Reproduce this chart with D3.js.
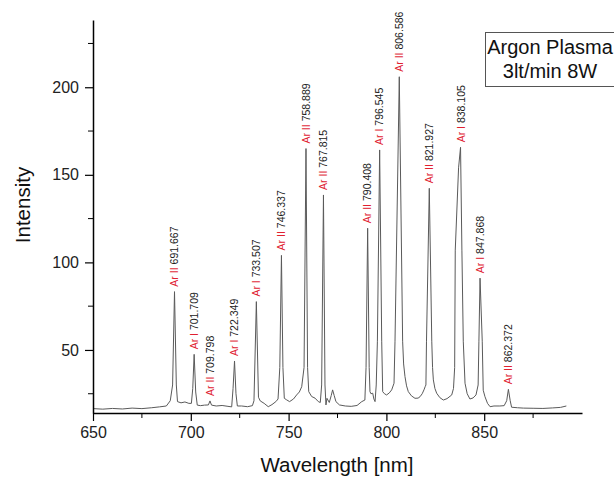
<!DOCTYPE html>
<html>
<head>
<meta charset="utf-8">
<script src="https://cdn.jsdelivr.net/npm/d3@7"></script>
<style>
  body { margin: 0; background: #fff; }
  svg { font-family: Arial, "Liberation Sans", sans-serif; }
</style>
</head>
<body>
<script>
// spectrum (wavelength nm, intensity)
var wavelength = [650, 655, 660, 665, 670, 675, 680, 684, 687.5, 689.5, 690.7, 691.67, 692.6, 693.2, 695, 697, 699, 700.3, 701.0, 701.71, 702.5, 703.3,
  705, 707, 709, 709.8, 710.6, 713, 716, 719, 720.9, 721.6, 722.35, 723.1, 723.8, 726, 729, 731.5, 732.3, 733.51, 734.6, 735.5,
  737.5, 739.6, 741.5, 743.5, 744.6, 745.5, 746.34, 747.1, 747.8, 749, 750.5, 752.5, 754.1, 755.5, 756.7, 757.9, 758.89, 759.7, 760.3,
  761.8, 763.5, 765.2, 766.2, 766.9, 767.82, 768.6, 769.1, 769.6, 770.8, 771.8, 772.5, 773.3, 774.2, 776, 779, 782, 785, 787.4, 789.0,
  789.6, 790.41, 791.2, 791.6, 792.1, 793, 793.6, 794.2, 794.8, 795.4, 796.55, 797.6, 798.1, 799.0, 800.1, 801.5, 802.7, 803.9, 804.4,
  806.59, 808.3, 808.8, 809.5, 810.3, 811.2, 812.8, 814.6, 816.2, 817.2, 818.3, 819.2, 819.8, 820.2, 820.5, 821.93, 823.2, 823.6, 824.0,
  824.8, 825.7, 827.3, 829.1, 831, 833.4, 834.3, 834.9, 835.2, 836.9, 837.9, 838.6, 839.3, 840.2, 841.3, 842.7, 844.3, 845.8, 846.9,
  847.3, 847.87, 849.0, 849.5, 850.4, 851.7, 853, 855, 858, 860.2, 861.5, 862.37, 863.3, 864, 867, 870, 875, 880, 885, 889, 892];
var intensity = [16.5, 16.2, 16.6, 16.3, 16.8, 16.5, 17.0, 17.5, 18.0, 21.0, 30, 83.3, 30, 20.5, 19.8, 20.3, 19.5, 19.5, 28, 47.5, 26, 18.5,
  18.2, 18.5, 18.6, 20.9, 18.5, 18.0, 18.3, 17.8, 17.5, 28, 43.7, 25, 18.0, 18.0, 17.6, 18.2, 21, 77.6, 23, 20.9,
  19.5, 17.6, 18.8, 20.5, 22, 40, 104, 40, 22.4, 21.5, 20.5, 22, 24.3, 26, 29, 40, 165, 40, 26.2,
  23.4, 22.5, 20.5, 20, 30, 138.5, 30, 18.6, 22.4, 20, 24, 27.2, 24, 20.5, 18.6, 18.0, 17.8, 18.3, 20.5, 21.4,
  40, 119.5, 40, 26.2, 25, 25.3, 22, 20.5, 30, 55, 164.2, 55, 26.2, 25, 24.3, 25.5, 27.2, 31, 55,
  206, 55, 42, 34.8, 29.5, 26.2, 23.8, 22.4, 22.5, 23.3, 25, 27.2, 29, 30, 55, 142.3, 55, 40, 32.9,
  28, 25.3, 22.8, 21.4, 22.2, 24.3, 28, 40, 107, 154, 165.7, 107, 55, 31, 25, 22, 22.6, 24.3, 30,
  55, 91, 55, 27, 23.3, 19.5, 17.6, 18.0, 18.0, 18.2, 21, 27.5, 21, 17.3, 17.0, 16.8, 16.7, 16.6, 16.9, 17.2, 18.0];

// line identifications
var lineWl = ["691.667", "701.709", "709.798", "722.349", "733.507", "746.337", "758.889", "767.815",
  "790.408", "796.545", "806.586", "821.927", "838.105", "847.868", "862.372"];
var lineIon = ["Ar II", "Ar I", "Ar II", "Ar I", "Ar I", "Ar II", "Ar II", "Ar II",
  "Ar II", "Ar I", "Ar II", "Ar II", "Ar I", "Ar I", "Ar II"];
var lineTop = [83.3, 47.5, 20.9, 43.7, 77.6, 104, 165, 138.5, 119.5, 164.2, 206, 142.3, 165.7, 91, 27.5];

var xTicks = [650, 700, 750, 800, 850];
var xMinor = [675, 725, 775, 825, 875];
var yTicks = [50, 100, 150, 200];
var yMinor = [25, 75, 125, 175, 225];
var legendLines = ["Argon Plasma", "3lt/min 8W"];

var W = 614, H = 479;
var x = d3.scaleLinear().domain([650, 900]).range([93, 582]);
var y = d3.scaleLinear().domain([14, 238.4]).range([413, 20]);

var svg = d3.select("body").append("svg")
    .attr("width", W)
    .attr("height", H);
svg.append("rect").attr("width", W).attr("height", H).attr("fill", "#fff");

// spectrum
var pts = wavelength.map(function(w, i) { return [w, intensity[i]]; });
var line = d3.line()
    .x(function(d) { return x(d[0]); })
    .y(function(d) { return y(d[1]); });
svg.append("path")
    .datum(pts)
    .attr("d", line)
    .attr("fill", "none")
    .attr("stroke", "#5a5a5a")
    .attr("stroke-width", 1)
    .attr("stroke-linejoin", "round");

// axes
var xAxis = d3.axisBottom(x).tickValues(xTicks).tickSize(8).tickSizeOuter(0).tickPadding(6).tickFormat(d3.format("d"));
var yAxis = d3.axisLeft(y).tickValues(yTicks).tickSize(8).tickSizeOuter(0).tickPadding(6).tickFormat(d3.format("d"));

var gx = svg.append("g").attr("transform", "translate(0," + y.range()[0] + ")").call(xAxis);
gx.selectAll(".minor").data(xMinor).enter().append("line")
    .attr("class", "minor")
    .attr("x1", function(d) { return x(d); }).attr("x2", function(d) { return x(d); })
    .attr("y1", 0).attr("y2", 5)
    .attr("stroke", "#000");

var gy = svg.append("g").attr("transform", "translate(" + x.range()[0] + ",0)").call(yAxis);
gy.selectAll(".minor").data(yMinor).enter().append("line")
    .attr("class", "minor")
    .attr("y1", function(d) { return y(d); }).attr("y2", function(d) { return y(d); })
    .attr("x1", 0).attr("x2", -5)
    .attr("stroke", "#000");

svg.selectAll(".domain").attr("stroke", "#000").attr("stroke-width", 1.5);
svg.selectAll(".tick line").attr("stroke", "#000").attr("stroke-width", 1.2);
svg.selectAll(".tick text").attr("font-size", 16).attr("fill", "#222")
    .attr("font-family", "Arial, 'Liberation Sans', sans-serif");

// axis titles
svg.append("text")
    .attr("x", 337).attr("y", 472)
    .attr("text-anchor", "middle")
    .attr("font-size", 20.5)
    .attr("fill", "#111")
    .text("Wavelength [nm]");
svg.append("text")
    .attr("transform", "translate(30,205) rotate(-90)")
    .attr("text-anchor", "middle")
    .attr("font-size", 20.5)
    .attr("fill", "#111")
    .text("Intensity");

// peak labels
var lab = svg.selectAll(".peak").data(lineWl).enter().append("text")
    .attr("class", "peak")
    .attr("transform", function(d, i) {
      return "translate(" + x(+d) + "," + (y(lineTop[i]) - 5) + ") rotate(-90)";
    })
    .attr("dy", "0.35em")
    .attr("font-size", 10.5);
lab.append("tspan").attr("fill", "#e02030").text(function(d, i) { return lineIon[i]; });
lab.append("tspan").attr("fill", "#222").text(function(d) { return " " + d; });

// legend box (runs off the right edge, as in the original)
svg.append("rect")
    .attr("x", 485.5).attr("y", 32.5)
    .attr("width", 140).attr("height", 54)
    .attr("fill", "#fff")
    .attr("stroke", "#555")
    .attr("stroke-width", 1);
svg.selectAll(".leg").data(legendLines).enter().append("text")
    .attr("class", "leg")
    .attr("x", 550)
    .attr("y", function(d, i) { return 54 + i * 24; })
    .attr("text-anchor", "middle")
    .attr("font-size", 20)
    .attr("fill", "#111")
    .text(function(d) { return d; });
</script>
</body>
</html>
